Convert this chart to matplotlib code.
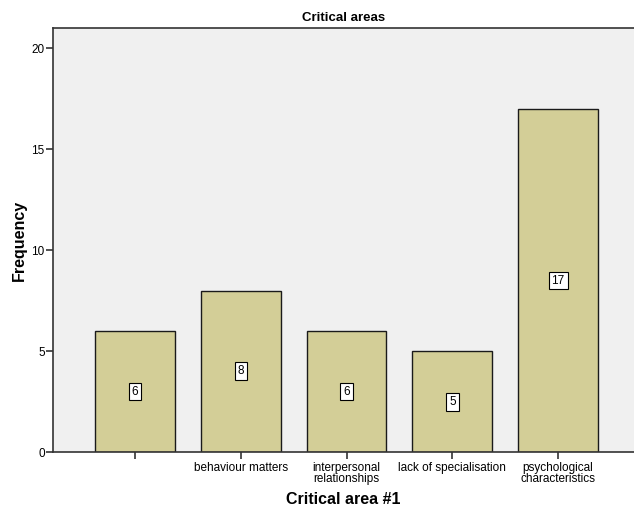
import matplotlib.pyplot as plt

plt.rcParams["font.family"] = ["Liberation Sans", "DejaVu Sans"]

categories = ["", "behaviour matters", "interpersonal\nrelationships",
              "lack of specialisation", "psychological\ncharacteristics"]
counts = [6, 8, 6, 5, 17]

fig = plt.figure(figsize=(6.34, 5.12), dpi=100)
ax = fig.add_axes([0.0836, 0.117, 0.9164, 0.828])
ax.set_facecolor("#f0f0f0")

x = list(range(len(counts)))
ax.bar(x, counts, width=0.755, color="#d3ce97", edgecolor="#1a1a1a", linewidth=1, zorder=2)

for xi, c in zip(x, counts):
    ax.text(xi, c / 2, str(c), ha="center", va="center", fontsize=8.5, zorder=3,
            bbox=dict(boxstyle="square,pad=0.25", facecolor="white", edgecolor="black", linewidth=0.8))

ax.set_xlim(-0.774, 4.717)
ax.set_ylim(0, 21)
ax.set_yticks([0, 5, 10, 15, 20])
ax.set_xticks(x)
ax.set_xticklabels(categories, fontsize=8.5, linespacing=0.95)
ax.tick_params(axis="y", labelsize=8.5, length=5, width=1.2, color="#333333", pad=1)
ax.tick_params(axis="x", length=5, width=1.2, color="#333333", pad=2)

for s in ["left", "bottom", "top"]:
    ax.spines[s].set_color("#333333")
    ax.spines[s].set_linewidth(1.2)
ax.spines["right"].set_visible(False)

ax.set_title("Critical areas", fontsize=9.5, fontweight="bold", pad=5)
ax.set_ylabel("Frequency", fontsize=11.5, fontweight="bold", labelpad=3)
ax.set_xlabel("Critical area #1", fontsize=11.5, fontweight="bold", labelpad=5)

fig.savefig("out.png", dpi=100)
